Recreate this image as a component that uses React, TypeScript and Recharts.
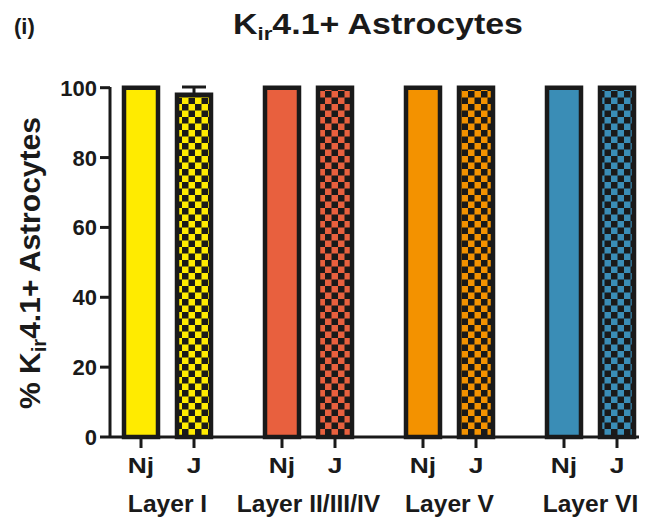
import { Bar, BarChart, Cell, ErrorBar, XAxis, YAxis } from "recharts";

const layers = ["Layer I", "Layer II/III/IV", "Layer V", "Layer VI"];
const pairLabels = ["Nj", "J"];
const njPercent = [100, 100, 100, 100];
const jPercent = [98, 100, 100, 100];
const jErrorUp = [2.2, 0, 0, 0];
const layerColors = ["#FFEB00", "#E8603E", "#F39200", "#3A8DB6"];
const yTicks = [0, 20, 40, 60, 80, 100];

const rows = layers.map((layer, i) => ({
  layer,
  nj: njPercent[i],
  j: jPercent[i],
  jErr: [0, jErrorUp[i]],
}));

const FONT = '"Liberation Sans", Arial, sans-serif';
const INK = "#1a1a1a";
const BAR_SIZE = 34;
const BAR_GAP = 19;
const HALF_PAIR = (BAR_SIZE + BAR_GAP) / 2;

function XTick(props: any) {
  const { x, y, payload } = props;
  const xs = [x - HALF_PAIR, x + HALF_PAIR];
  return (
    <g fontFamily={FONT} fontWeight="bold" fill={INK}>
      {xs.map((bx, k) => (
        <g key={k}>
          <line x1={bx} x2={bx} y1={y} y2={y + 11} stroke={INK} strokeWidth={3} />
          <text
            x={bx}
            y={y + 36}
            textAnchor="middle"
            fontSize={22}
            transform={`translate(${bx} 0) scale(1.2 1) translate(${-bx} 0)`}
          >
            {pairLabels[k]}
          </text>
        </g>
      ))}
      <text
        x={x}
        y={y + 75}
        textAnchor="middle"
        fontSize={23}
        transform={`translate(${x} 0) scale(1.07 1) translate(${-x} 0)`}
      >
        {payload.value}
      </text>
    </g>
  );
}

function YTick(props: any) {
  const { x, y, payload } = props;
  return (
    <text
      x={x}
      y={y}
      dy={8}
      textAnchor="end"
      fontFamily={FONT}
      fontWeight="bold"
      fontSize={22}
      fill={INK}
    >
      {payload.value}
    </text>
  );
}

export default function App() {
  return (
    <div style={{ position: "absolute", left: 0, top: 0, width: 645, height: 519, background: "#fff", overflow: "hidden" }}>
      <svg width={645} height={519} style={{ position: "absolute", left: 0, top: 0, pointerEvents: "none", zIndex: 2 }}>
        <defs>
          {layerColors.map((c, i) => (
            <pattern key={i} id={`chk-${i}`} width={13} height={13} patternUnits="userSpaceOnUse">
              <rect width={13} height={13} fill={c} />
              <rect x={0} y={0} width={6.5} height={6.5} fill={INK} />
              <rect x={6.5} y={6.5} width={6.5} height={6.5} fill={INK} />
            </pattern>
          ))}
        </defs>
        <text x={14} y={34} fontFamily={FONT} fontWeight="bold" fontSize={22} fill={INK}>
          (i)
        </text>
        <text
          x={233}
          y={34}
          fontFamily={FONT}
          fontWeight="bold"
          fontSize={29}
          fill={INK}
          textLength={290}
          lengthAdjust="spacingAndGlyphs"
        >
          K
          <tspan fontSize={19} dy={6}>ir</tspan>
          <tspan dy={-6}>4.1+ Astrocytes</tspan>
        </text>
        <text
          transform="rotate(-90)"
          x={-409}
          y={40}
          fontFamily={FONT}
          fontWeight="bold"
          fontSize={30}
          fill={INK}
          textLength={292}
          lengthAdjust="spacingAndGlyphs"
        >
          % K
          <tspan fontSize={20} dy={6}>ir</tspan>
          <tspan dy={-6}>4.1+ Astrocytes</tspan>
        </text>
      </svg>
      <BarChart
        width={645}
        height={519}
        data={rows}
        margin={{ top: 87, right: 6, bottom: 0, left: 0 }}
        barSize={BAR_SIZE}
        barGap={BAR_GAP}
      >
        <XAxis
          dataKey="layer"
          padding={{ left: -13, right: -22 }}
          axisLine={{ stroke: INK, strokeWidth: 3 }}
          tickLine={false}
          tickSize={0}
          tickMargin={0}
          tick={<XTick />}
          interval={0}
          height={82}
        />
        <YAxis
          domain={[0, 100]}
          ticks={yTicks}
          width={110}
          axisLine={{ stroke: INK, strokeWidth: 3 }}
          tickLine={{ stroke: INK, strokeWidth: 3 }}
          tickSize={10}
          tickMargin={3}
          tick={<YTick />}
        />
        <Bar dataKey="nj" stroke={INK} strokeWidth={4.5} isAnimationActive={false}>
          {rows.map((_, i) => (
            <Cell key={i} fill={layerColors[i]} />
          ))}
        </Bar>
        <Bar dataKey="j" stroke={INK} strokeWidth={4.5} isAnimationActive={false}>
          {rows.map((_, i) => (
            <Cell key={i} fill={`url(#chk-${i})`} />
          ))}
          <ErrorBar dataKey="jErr" width={12} stroke={INK} strokeWidth={3} direction="y" />
        </Bar>
      </BarChart>
    </div>
  );
}
